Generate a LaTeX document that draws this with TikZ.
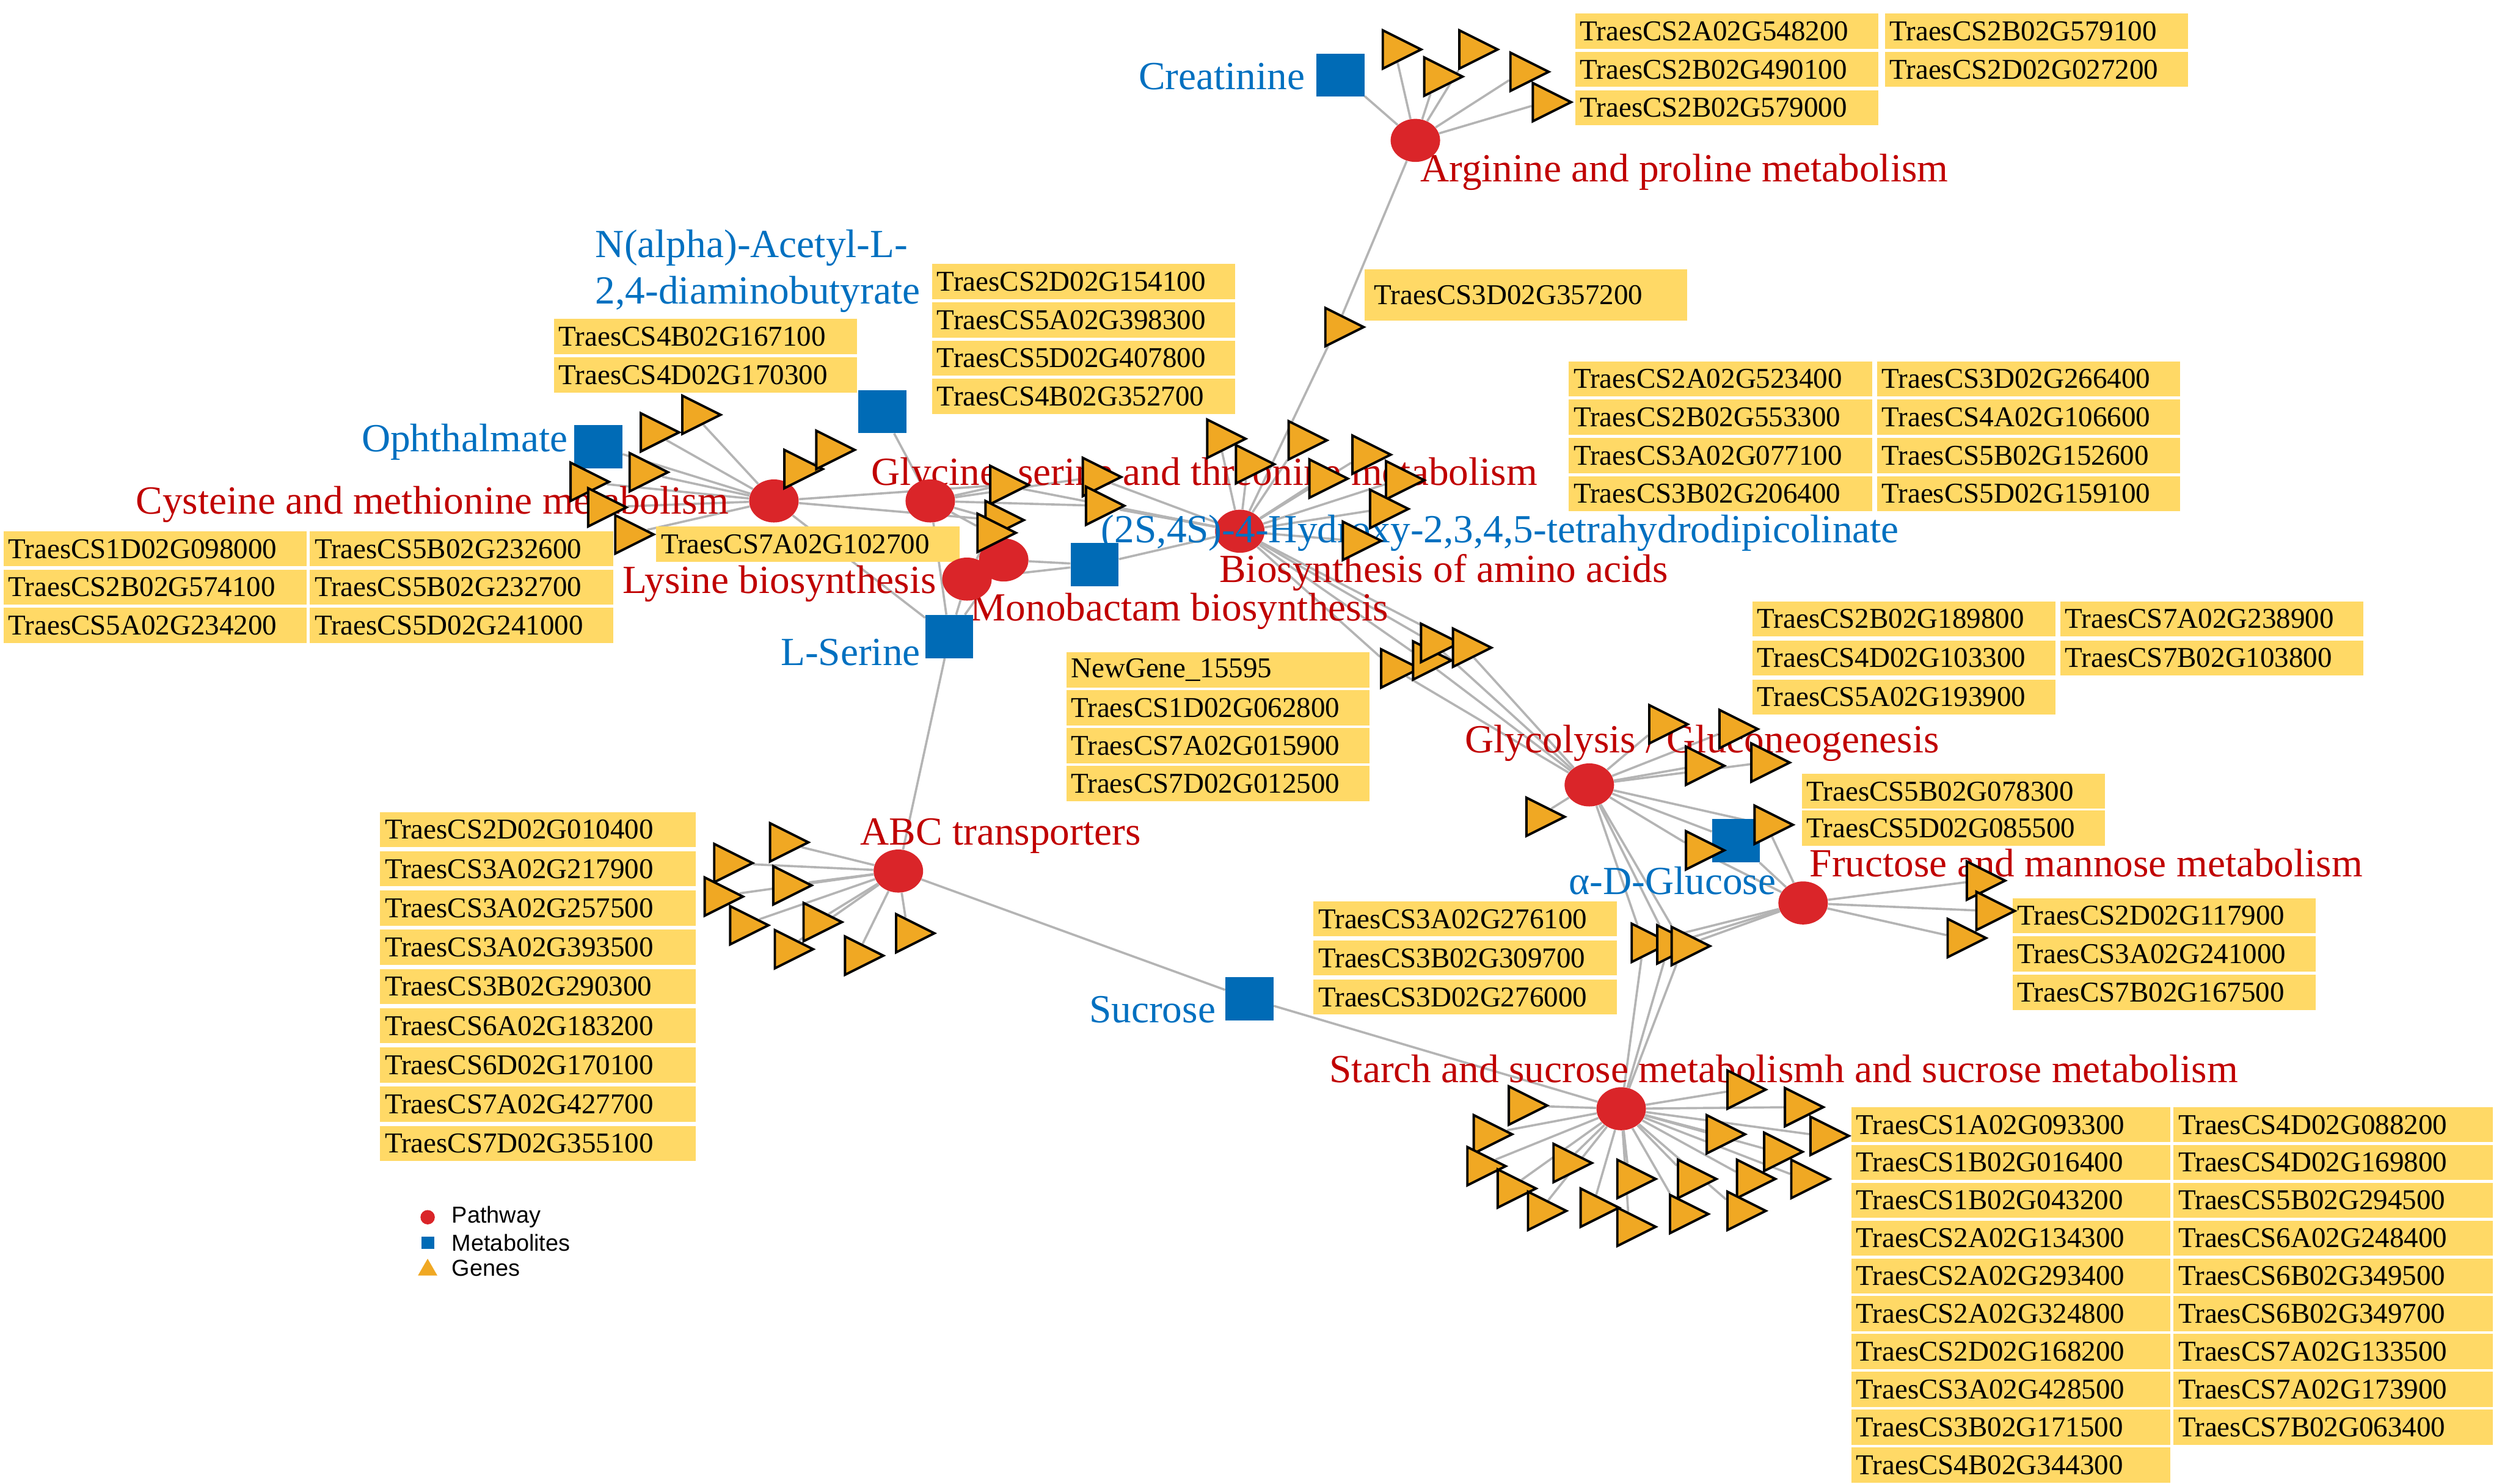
\documentclass[tikz,border=0pt]{standalone}
\usepackage{fontspec}
\setmainfont{Liberation Serif}
\newfontfamily\legendfont{Liberation Sans}
\usetikzlibrary{shapes.geometric,backgrounds}

\definecolor{pathred}{RGB}{218,37,41}
\definecolor{metblue}{RGB}{0,107,182}
\definecolor{geneor}{RGB}{240,168,35}
\definecolor{boxyel}{RGB}{255,217,102}
\definecolor{pathtxt}{RGB}{192,0,0}
\definecolor{mettxt}{RGB}{0,112,192}
\definecolor{linkgray}{RGB}{180,180,180}

\begin{document}
\begin{tikzpicture}[
    x=1pt, y=-1pt,
    pathway/.style={ellipse, fill=pathred, minimum width=31pt, minimum height=27pt, inner sep=0pt},
    metab/.style={rectangle, fill=metblue, minimum width=30pt, minimum height=27pt, inner sep=0pt},
    gene/.style={isosceles triangle, isosceles triangle stretches, draw=black, line width=1.5pt, fill=geneor, minimum width=24pt, minimum height=24pt, inner sep=0pt},
    genelbl/.style={fill=boxyel, anchor=west, text width=184pt, align=left, inner xsep=3pt, inner ysep=0pt, minimum height=22pt, font=\fontsize{18}{19}\selectfont},
    pwlbl/.style={text=pathtxt, anchor=west, inner sep=0pt, font=\fontsize{25}{29}\selectfont},
    metlbl/.style={text=mettxt, inner sep=0pt, font=\fontsize{25}{29}\selectfont},
    link/.style={draw=linkgray, line width=1.4pt}
  ]
  \useasboundingbox (0,0) rectangle (1568,930);

  % gene lists
  \foreach \g [count=\i] in {TraesCS2A02G548200,TraesCS2B02G490100,TraesCS2B02G579000}
    \node[genelbl] (argL\i) at (987,{-4.5+24*\i}) {\g};
  \foreach \g [count=\i] in {TraesCS2B02G579100,TraesCS2D02G027200}
    \node[genelbl] (argR\i) at (1181,{-4.5+24*\i}) {\g};
  \node[genelbl, text width=190pt, inner xsep=6pt, minimum height=32pt] (bioT) at (855,185) {TraesCS3D02G357200};
  \foreach \g [count=\i] in {TraesCS4B02G167100,TraesCS4D02G170300}
    \node[genelbl] (cysT\i) at (347,{187+24*\i}) {\g};
  \foreach \g [count=\i] in {TraesCS2D02G154100,TraesCS5A02G398300,TraesCS5D02G407800,TraesCS4B02G352700}
    \node[genelbl] (glyT\i) at (584,{152.5+24*\i}) {\g};
  \foreach \g [count=\i] in {TraesCS2A02G523400,TraesCS2B02G553300,TraesCS3A02G077100,TraesCS3B02G206400}
    \node[genelbl] (bioL\i) at (983,{213.5+24*\i}) {\g};
  \foreach \g [count=\i] in {TraesCS3D02G266400,TraesCS4A02G106600,TraesCS5B02G152600,TraesCS5D02G159100}
    \node[genelbl] (bioR\i) at (1176,{213.5+24*\i}) {\g};
  \foreach \g [count=\i] in {TraesCS1D02G098000,TraesCS2B02G574100,TraesCS5A02G234200}
    \node[genelbl] (cysL\i) at (2,{320+24*\i}) {\g};
  \foreach \g [count=\i] in {TraesCS5B02G232600,TraesCS5B02G232700,TraesCS5D02G241000}
    \node[genelbl] (cysR\i) at (194,{320+24*\i}) {\g};
  \node[genelbl] (lysT) at (411,341) {TraesCS7A02G102700};
  \foreach \g [count=\i] in {TraesCS2B02G189800,TraesCS4D02G103300,TraesCS5A02G193900}
    \node[genelbl] (glcL\i) at (1098,{363.5+24.5*\i}) {\g};
  \foreach \g [count=\i] in {TraesCS7A02G238900,TraesCS7B02G103800}
    \node[genelbl] (glcR\i) at (1291,{363.5+24.5*\i}) {\g};
  \foreach \g [count=\i] in {NewGene\_15595,TraesCS1D02G062800,TraesCS7A02G015900,TraesCS7D02G012500}
    \node[genelbl] (midT\i) at (668,{396.3+23.7*\i}) {\g};
  \foreach \g [count=\i] in {TraesCS5B02G078300,TraesCS5D02G085500}
    \node[genelbl] (glsT\i) at (1129,{473+23*\i}) {\g};
  \foreach \g [count=\i] in {TraesCS2D02G117900,TraesCS3A02G241000,TraesCS7B02G167500}
    \node[genelbl] (fruT\i) at (1261,{550+24*\i}) {\g};
  \foreach \g [count=\i] in {TraesCS3A02G276100,TraesCS3B02G309700,TraesCS3D02G276000}
    \node[genelbl] (lowT\i) at (823,{551.5+24.5*\i}) {\g};
  \foreach \g [count=\i] in {TraesCS2D02G010400,TraesCS3A02G217900,TraesCS3A02G257500,TraesCS3A02G393500,TraesCS3B02G290300,TraesCS6A02G183200,TraesCS6D02G170100,TraesCS7A02G427700,TraesCS7D02G355100}
    \node[genelbl, text width=192pt] (abcT\i) at (238,{495.4+24.6*\i}) {\g};
  \foreach \g [count=\i] in {TraesCS1A02G093300,TraesCS1B02G016400,TraesCS1B02G043200,TraesCS2A02G134300,TraesCS2A02G293400,TraesCS2A02G324800,TraesCS2D02G168200,TraesCS3A02G428500,TraesCS3B02G171500,TraesCS4B02G344300}
    \node[genelbl, text width=194pt] (stL\i) at (1160,{681.3+23.7*\i}) {\g};
  \foreach \g [count=\i] in {TraesCS4D02G088200,TraesCS4D02G169800,TraesCS5B02G294500,TraesCS6A02G248400,TraesCS6B02G349500,TraesCS6B02G349700,TraesCS7A02G133500,TraesCS7A02G173900,TraesCS7B02G063400}
    \node[genelbl, text width=194pt] (stR\i) at (1362,{681.3+23.7*\i}) {\g};

  % labels
  \node[pwlbl] (argLbl) at (890,108) {Arginine and proline metabolism};
  \node[pwlbl] (cysLbl) at (85,316) {Cysteine and methionine metabolism};
  \node[pwlbl] (glyLbl) at (546,298) {Glycine, serine and threonine metabolism};
  \node[pwlbl] (bioLbl) at (764,359) {Biosynthesis of amino acids};
  \node[pwlbl] (lysLbl) at (390,366) {Lysine biosynthesis};
  \node[pwlbl] (monoLbl) at (608,383) {Monobactam biosynthesis};
  \node[pwlbl] (glycLbl) at (918,466) {Glycolysis / Gluconeogenesis};
  \node[pwlbl] (fruLbl) at (1134,541) {Fructose and mannose metabolism};
  \node[pwlbl] (abcLbl) at (539,524) {ABC transporters};
  \node[pwlbl] (stLbl) at (833,670) {Starch and sucrose metabolismh and sucrose metabolism};
  \node[metlbl, anchor=east] (creatLbl) at (818,48) {Creatinine};
  \node[metlbl, anchor=west, align=left] (nacetLbl) at (373,170) {N(alpha)-Acetyl-L-\\2,4-diaminobutyrate};
  \node[metlbl, anchor=east] (ophLbl) at (356,277) {Ophthalmate};
  \node[metlbl, anchor=east] (lserLbl) at (577,409) {L-Serine};
  \node[metlbl, anchor=east] (sucrLbl) at (762,633) {Sucrose};
  \node[metlbl, anchor=west] (glcLbl) at (983,552) {α-D-Glucose};

  % pathways and metabolites
  \node[pathway] (arg) at (887,88) {};
  \node[pathway] (cys) at (485,314) {};
  \node[pathway] (gly) at (583,314) {};
  \node[pathway] (bio) at (777,333) {};
  \node[pathway] (mono) at (629,351) {};
  \node[pathway] (lys) at (606,363) {};
  \node[pathway] (glyc) at (996,492) {};
  \node[pathway] (fru) at (1130,566) {};
  \node[pathway] (abc) at (563,546) {};
  \node[pathway] (starch) at (1016,695) {};
  \node[metab] (creat) at (840,47) {};
  \node[metab] (nacet) at (553,258) {};
  \node[metab] (oph) at (375,280) {};
  \node[metab] (lser) at (595,399) {};
  \node[metab] (sucr) at (783,626) {};
  \node[metab] (glc) at (1088,527) {};
  \node[metlbl, anchor=west] (hthdpLbl) at (690,334) {(2S,4S)-4-Hydroxy-2,3,4,5-tetrahydrodipicolinate};
  \node[metab] (hthdp) at (686,354) {};

  % genes
  \foreach \n/\x/\y in {ga1/874/31, ga2/922/31, ga3/900/48, ga4/954/45, ga5/968/64, gb0/838/205,
      gc1/435/260, gc2/409/271, gc3/402/296, gc4/365/302, gc5/376/318, gc6/393/335, gc7/499/294, gc8/519/282,
      gg1/628/304, gg2/686/299, gg3/688/317, gg4/625/326, gg5/620/334,
      gb1/764/275, gb2/815/276, gb3/782/291, gb4/855/285, gb5/828/300, gb6/876/301, gb7/866/319, gb8/849/339,
      gk1/873/419, gk2/893/414, gk3/898/403, gk4/918/406,
      gl1/1041/454, gl2/1085/457, gl3/1064/480, gl4/1105/478, gl5/964/512, gm1/1107/517, gm2/1064/533,
      gf1/1240/552, gf2/1246/571, gf3/1228/588, gs1/1030/591, gs2/1046/592, gs3/1055/593,
      gr1/490/528, gr2/455/541, gr3/492/555, gr4/449/562, gr5/465/580, gr6/511/578, gr7/493/595, gr8/537/599, gr9/569/585,
      gt1/953/693, gt2/931/711, gt3/927/731, gt4/946/745, gt5/965/759, gt6/981/729, gt7/998/757, gt8/1021/769,
      gt9/1021/739, gt10/1059/739, gt11/1054/761, gt12/1096/739, gt13/1090/759, gt14/1130/739, gt15/1077/711,
      gt16/1113/722, gt17/1142/712, gt18/1126/694, gt19/1090/683}
    \node[gene] (\n) at (\x,\y) {};

  % connectors
  \begin{scope}[on background layer]
    \foreach \n in {creat,ga1,ga2,ga3,ga4,ga5,gb0} \draw[link] (arg) -- (\n);
    \foreach \n in {oph,gc1,gc2,gc3,gc4,gc5,gc6,gc7,gc8,gg1,gg4,lser} \draw[link] (cys) -- (\n);
    \foreach \n in {nacet,gg1,gg2,gg3,gg4,gg5,lser} \draw[link] (gly) -- (\n);
    \foreach \n in {gb0,gg1,gg2,gg3,gb1,gb2,gb3,gb4,gb5,gb6,gb7,gb8,hthdp,gk1,gk2,gk3,gk4} \draw[link] (bio) -- (\n);
    \foreach \n in {hthdp,lser,gg5} \draw[link] (lys) -- (\n);
    \foreach \n in {hthdp,lser,gg4} \draw[link] (mono) -- (\n);
    \foreach \n in {gk1,gk2,gk3,gk4,gl1,gl2,gl3,gl4,gl5,gm1,gm2,glc,gs1,gs2,gs3} \draw[link] (glyc) -- (\n);
    \foreach \n in {glc,gf1,gf2,gf3,gs1,gs2,gs3,gm1,gm2} \draw[link] (fru) -- (\n);
    \foreach \n in {gs1,gs2,gs3,sucr,gt1,gt2,gt3,gt4,gt5,gt6,gt7,gt8,gt9,gt10,gt11,gt12,gt13,gt14,gt15,gt16,gt17,gt18,gt19} \draw[link] (starch) -- (\n);
    \foreach \n in {lser,sucr,gr1,gr2,gr3,gr4,gr5,gr6,gr7,gr8,gr9} \draw[link] (abc) -- (\n);
  \end{scope}

  % legend
  \node[circle, fill=pathred, minimum size=9pt, inner sep=0pt] (lgPath) at (268,763) {};
  \node[rectangle, fill=metblue, minimum size=8pt, inner sep=0pt] (lgMet) at (268,779) {};
  \node[regular polygon, regular polygon sides=3, fill=geneor, minimum size=14pt, inner sep=0pt] (lgGene) at (268,796) {};
  \node[anchor=west, inner sep=0pt, font=\legendfont\fontsize{14.5}{16}\selectfont] at (283,763) {Pathway};
  \node[anchor=west, inner sep=0pt, font=\legendfont\fontsize{14.5}{16}\selectfont] at (283,779) {Metabolites};
  \node[anchor=west, inner sep=0pt, font=\legendfont\fontsize{14.5}{16}\selectfont] at (283,795) {Genes};
\end{tikzpicture}
\end{document}
